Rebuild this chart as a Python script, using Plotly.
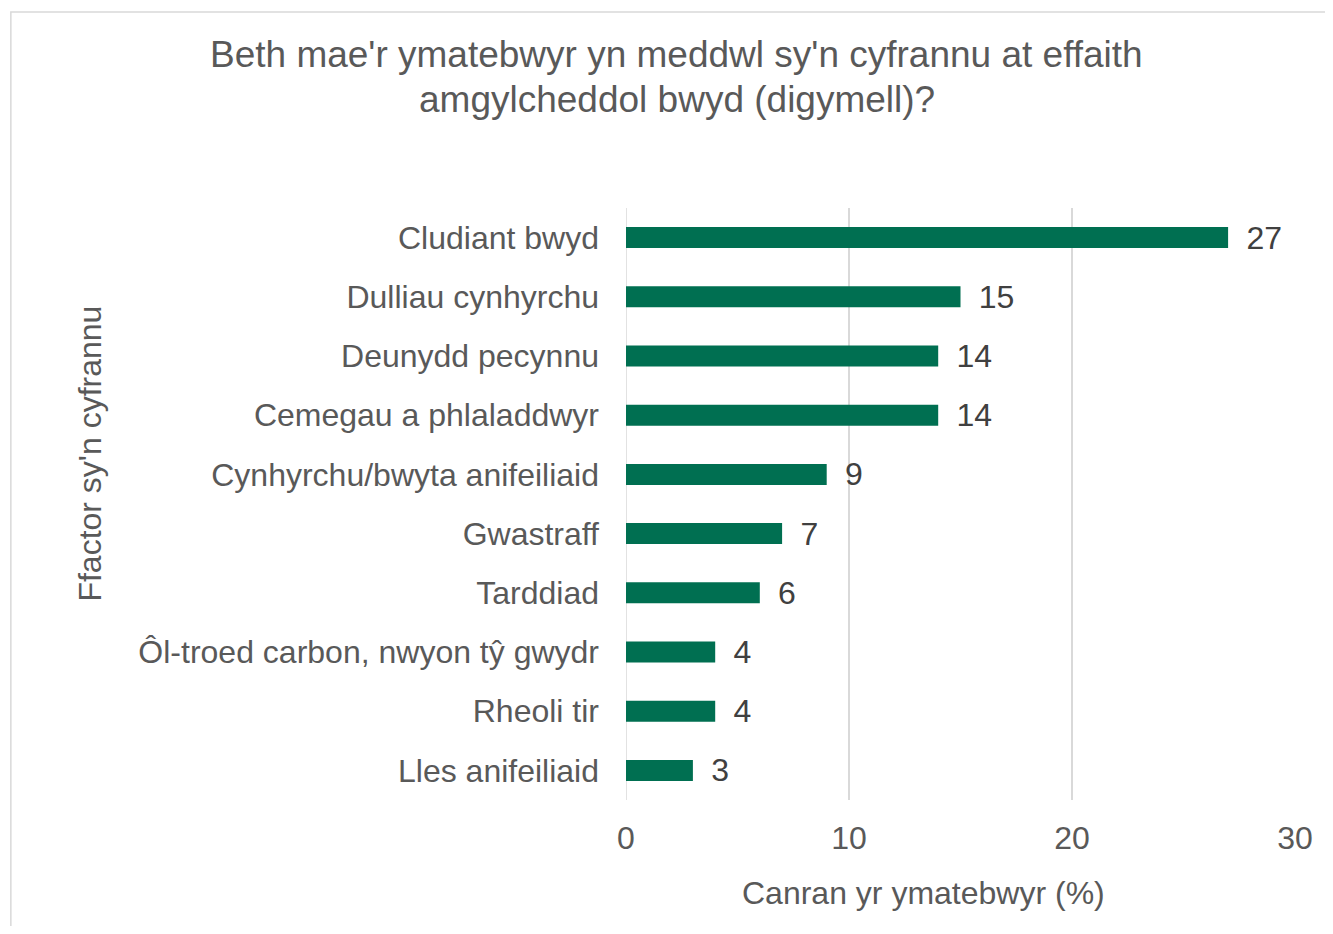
import plotly.graph_objects as go

categories = ["Cludiant bwyd", "Dulliau cynhyrchu", "Deunydd pecynnu", "Cemegau a phlaladdwyr",
              "Cynhyrchu/bwyta anifeiliaid", "Gwastraff", "Tarddiad",
              "Ôl-troed carbon, nwyon tŷ gwydr", "Rheoli tir", "Lles anifeiliaid"]
values = [27, 15, 14, 14, 9, 7, 6, 4, 4, 3]
x_ticks = [0, 10, 20, 30]

title_line1 = "Beth mae'r ymatebwyr yn meddwl sy'n cyfrannu at effaith"
title_line2 = "amgylcheddol bwyd (digymell)?"
x_title = "Canran yr ymatebwyr (%)"
y_title = "Ffactor sy'n cyfrannu"

OFF = 8  # page body margin
W, H = 1333 - 2 * OFF, 934 - 2 * OFF
L, R, T, B = 626 - OFF, 1297 - OFF, 208 - OFF, 800 - OFF
pw, ph = R - L, B - T

def px(x):
    return (x - OFF - L) / pw

def py(y):
    return (B - (y - OFF)) / ph

FONT = "Liberation Sans, Arial, sans-serif"

fig = go.Figure(go.Bar(
    y=categories, x=values, orientation="h",
    marker=dict(color="#006F51", line=dict(width=0)),
    text=[f" \u2009{v}" for v in values], textposition="outside", constraintext="none",
    textfont=dict(family=FONT, size=32, color="#404040"),
    cliponaxis=False, hoverinfo="skip",
))

fig.update_layout(
    width=W, height=H,
    margin=dict(l=L, r=W - R, t=T, b=H - B),
    paper_bgcolor="white", plot_bgcolor="white",
    bargap=0.645,
    showlegend=False,
    font=dict(family=FONT, size=32, color="#595959"),
    xaxis=dict(range=[0, 30], tickvals=x_ticks, showgrid=True, gridcolor="#D9D9D9", gridwidth=1.5,
               zeroline=False, showline=False, ticks="", ticklabelstandoff=16,
               tickfont=dict(size=32, color="#595959")),
    yaxis=dict(autorange="reversed", showgrid=False, zeroline=False, showline=False, ticks="",
               ticklabelstandoff=26, tickfont=dict(size=32, color="#595959")),
    annotations=[
        dict(text=title_line1, x=px(677), y=py(55), xref="paper", yref="paper",
             xanchor="center", yanchor="middle", showarrow=False,
             font=dict(size=37, color="#595959")),
        dict(text=title_line2, x=px(677), y=py(100), xref="paper", yref="paper",
             xanchor="center", yanchor="middle", showarrow=False,
             font=dict(size=37, color="#595959")),
        dict(text=y_title, x=px(88), y=py(454), xref="paper", yref="paper", textangle=-90,
             xanchor="center", yanchor="middle", showarrow=False,
             font=dict(size=32, color="#595959")),
        dict(text=x_title, x=px(924), y=py(893), xref="paper", yref="paper",
             xanchor="center", yanchor="middle", showarrow=False,
             font=dict(size=32, color="#595959")),
    ],
    shapes=[
        dict(type="rect", xref="paper", yref="paper",
             x0=px(9), x1=px(1345), y0=py(945), y1=py(12),
             line=dict(color="#D9D9D9", width=1.5), fillcolor="rgba(0,0,0,0)", layer="below"),
        dict(type="line", xref="x", yref="paper", x0=0, x1=0, y0=0, y1=1,
             line=dict(color="#D9D9D9", width=1.5), layer="below"),
    ],
)

fig.write_html("out.html")
